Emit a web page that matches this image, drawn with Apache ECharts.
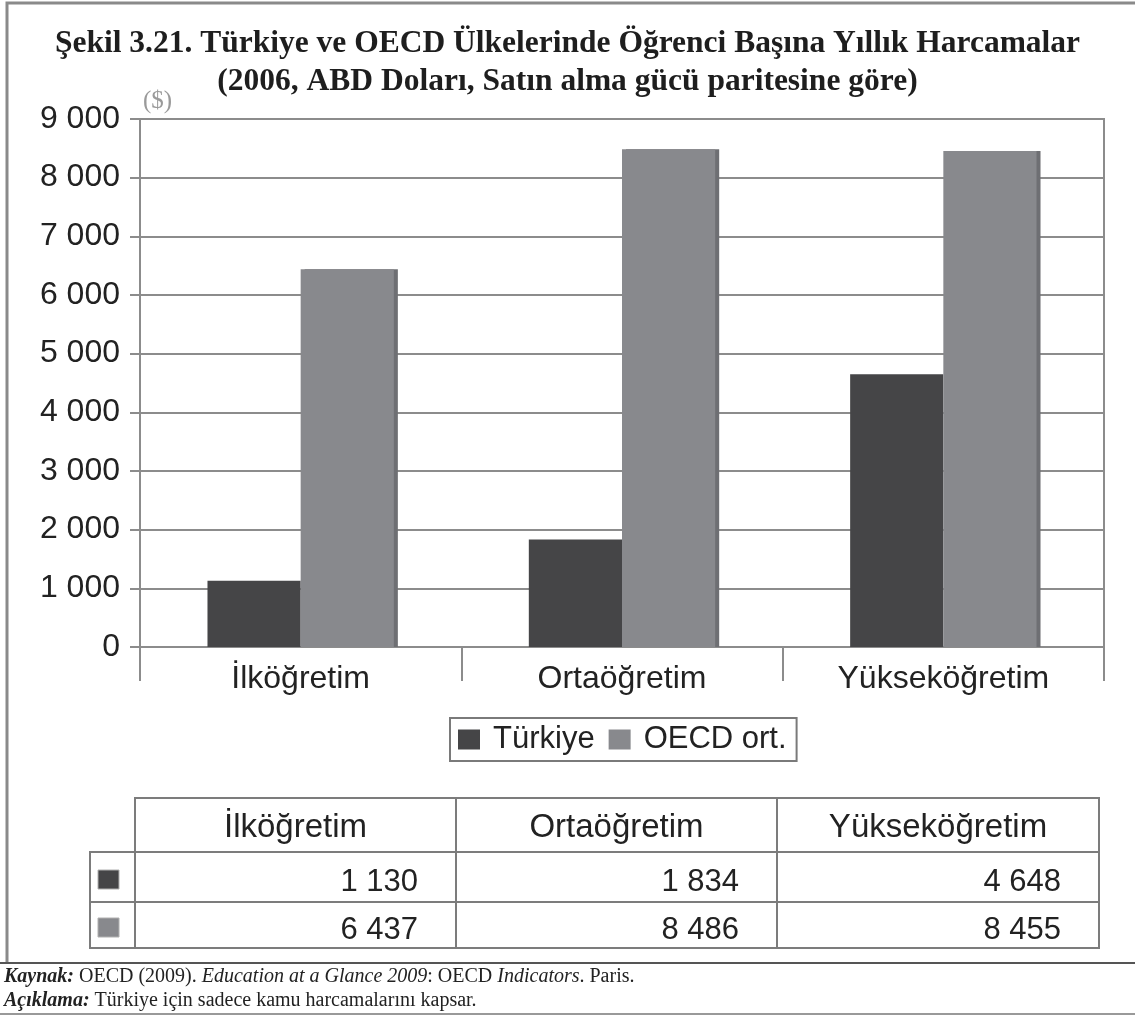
<!DOCTYPE html>
<html>
<head>
<meta charset="utf-8">
<script src="https://cdn.jsdelivr.net/npm/echarts@6/dist/echarts.min.js"></script>
<style>
html, body { margin: 0; padding: 0; background: #fff; }
#main { width: 1135px; height: 1023px; }
</style>
</head>
<body>
<div id="main"></div>
<script>
// data
var categories = ['İlköğretim', 'Ortaöğretim', 'Yükseköğretim'];
var seriesNames = ['Türkiye', 'OECD ort.'];
var turkiye = [1130, 1834, 4648];
var oecd = [6437, 8486, 8455];
var yMin = 0, yMax = 9000, yStep = 1000;

var titleLines = [
    'Şekil 3.21. Türkiye ve OECD Ülkelerinde Öğrenci Başına Yıllık Harcamalar',
    '(2006, ABD Doları, Satın alma gücü paritesine göre)'
];
var unitLabel = '($)';
var sourceNote = '{b|Kaynak:} OECD (2009). {i|Education at a Glance 2009}: OECD {i|Indicators}. Paris.';
var explainNote = '{b|Açıklama:} Türkiye için sadece kamu harcamalarını kapsar.';

// styles
var darkColor = '#454547';
var greyColor = '#88898d';
var lineColor = '#8c8c8c';
var sans = 'Liberation Sans, Arial, sans-serif';
var serif = 'Liberation Serif, Times New Roman, serif';

function fmt(v) {
    return String(v).replace(/\B(?=(\d{3})+(?!\d))/g, ' ');
}

var dom = document.getElementById('main');
var myChart = echarts.init(dom);

// table layout (pixels)
var colX = [135, 456, 777, 1099];
var markerColLeft = 90;
var tableTop = 798;
var headerH = 54;
var rowH = [50, 46];
var seriesData = [turkiye, oecd];
var seriesColors = [darkColor, greyColor];
var tableLine = '#7c7c7c';

var graphics = [];

// outer frame
graphics.push({
    type: 'polyline',
    shape: { points: [[7, 963], [7, 3], [1135, 3]] },
    style: { stroke: '#8a8a8a', lineWidth: 3, fill: null }
});

// unit label
graphics.push({
    type: 'text', left: 143, top: 89,
    style: { text: unitLabel, font: '25px ' + serif, fill: '#9a9a9a' }
});

// table: header row
graphics.push({
    type: 'rect',
    shape: { x: colX[0], y: tableTop, width: colX[3] - colX[0], height: headerH },
    style: { fill: '#fff', stroke: tableLine, lineWidth: 2 }
});
for (var c = 0; c < categories.length; c++) {
    if (c > 0) {
        graphics.push({
            type: 'line',
            shape: { x1: colX[c], y1: tableTop, x2: colX[c], y2: tableTop + headerH },
            style: { stroke: tableLine, lineWidth: 2 }
        });
    }
    graphics.push({
        type: 'text',
        x: (colX[c] + colX[c + 1]) / 2, y: tableTop + headerH / 2 + 3,
        style: {
            text: categories[c], font: '33px ' + sans, fill: '#222',
            align: 'center', verticalAlign: 'middle'
        }
    });
}

// table: data rows
var rowTop = tableTop + headerH;
for (var r = 0; r < seriesData.length; r++) {
    var h = rowH[r];
    graphics.push({
        type: 'rect',
        shape: { x: markerColLeft, y: rowTop, width: colX[3] - markerColLeft, height: h },
        style: { fill: '#fff', stroke: tableLine, lineWidth: 2 }
    });
    graphics.push({
        type: 'line',
        shape: { x1: colX[0], y1: rowTop, x2: colX[0], y2: rowTop + h },
        style: { stroke: tableLine, lineWidth: 2 }
    });
    graphics.push({
        type: 'rect',
        shape: { x: 98, y: rowTop + h / 2 - 7, width: 21, height: 19 },
        style: { fill: seriesColors[r], stroke: '#b0b0b0', lineWidth: 1 }
    });
    for (var c2 = 0; c2 < categories.length; c2++) {
        if (c2 > 0) {
            graphics.push({
                type: 'line',
                shape: { x1: colX[c2], y1: rowTop, x2: colX[c2], y2: rowTop + h },
                style: { stroke: tableLine, lineWidth: 2 }
            });
        }
        graphics.push({
            type: 'text',
            x: colX[c2 + 1] - 38, y: rowTop + h / 2 + 5,
            style: {
                text: fmt(seriesData[r][c2]), font: '31px ' + sans, fill: '#222',
                align: 'right', verticalAlign: 'middle'
            }
        });
    }
    rowTop += h;
}

// footer
graphics.push({
    type: 'line',
    shape: { x1: 0, y1: 963, x2: 1135, y2: 963 },
    style: { stroke: '#555', lineWidth: 2 }
});
graphics.push({
    type: 'line',
    shape: { x1: 0, y1: 1014, x2: 1135, y2: 1014 },
    style: { stroke: '#777', lineWidth: 1.5 }
});
var noteRich = {
    b: { fontWeight: 'bold', fontStyle: 'italic', fontFamily: serif, fontSize: 20, fill: '#222' },
    i: { fontStyle: 'italic', fontFamily: serif, fontSize: 20, fill: '#222' }
};
graphics.push({
    type: 'text', x: 4, y: 977,
    style: { text: sourceNote, font: '20px ' + serif, fill: '#222', verticalAlign: 'middle', rich: noteRich }
});
graphics.push({
    type: 'text', x: 4, y: 1001,
    style: { text: explainNote, font: '20px ' + serif, fill: '#222', verticalAlign: 'middle', rich: noteRich }
});

var option = {
    backgroundColor: '#fff',
    animation: false,
    title: {
        text: titleLines.join('\n'),
        left: 'center',
        top: 25,
        padding: 0,
        textStyle: {
            fontFamily: serif,
            fontWeight: 'bold',
            fontSize: 31.5,
            lineHeight: 38,
            color: '#1e1e1e'
        }
    },
    legend: {
        left: 450,
        top: 718,
        orient: 'horizontal',
        borderColor: '#7a7a7a',
        borderWidth: 2,
        padding: [6, 10, 6, 8],
        itemWidth: 22,
        itemHeight: 20,
        itemGap: 14,
        icon: 'rect',
        textStyle: { fontFamily: sans, fontSize: 31, color: '#222', padding: [0, 0, 0, 8] },
        data: seriesNames
    },
    grid: {
        left: 140,
        right: 31,
        top: 119,
        bottom: 376,
        show: true,
        borderColor: lineColor,
        borderWidth: 2,
        containLabel: false
    },
    xAxis: {
        type: 'category',
        data: categories,
        axisLine: { show: true, lineStyle: { color: lineColor, width: 2 } },
        axisTick: { show: true, length: 34, lineStyle: { color: lineColor, width: 2 } },
        axisLabel: { fontFamily: sans, fontSize: 32, color: '#222', margin: 16 }
    },
    yAxis: {
        type: 'value',
        min: yMin,
        max: yMax,
        interval: yStep,
        axisLine: { show: true, lineStyle: { color: lineColor, width: 2 } },
        axisTick: { show: true, length: 10, lineStyle: { color: lineColor, width: 2 } },
        splitLine: { show: true, lineStyle: { color: lineColor, width: 2 } },
        axisLabel: { fontFamily: sans, fontSize: 32, color: '#222', margin: 20, formatter: fmt }
    },
    series: [
        {
            name: seriesNames[0],
            type: 'bar',
            data: turkiye,
            barGap: '0%',
            barCategoryGap: '42%',
            itemStyle: { color: darkColor }
        },
        {
            name: seriesNames[1],
            type: 'bar',
            data: oecd,
            barGap: '0%',
            barCategoryGap: '42%',
            itemStyle: { color: greyColor, shadowColor: '#6e6f73', shadowOffsetX: 4, shadowBlur: 0 }
        }
    ],
    graphic: graphics
};

if (option && typeof option === "object") {
    myChart.setOption(option, true);
}
</script>
</body>
</html>
